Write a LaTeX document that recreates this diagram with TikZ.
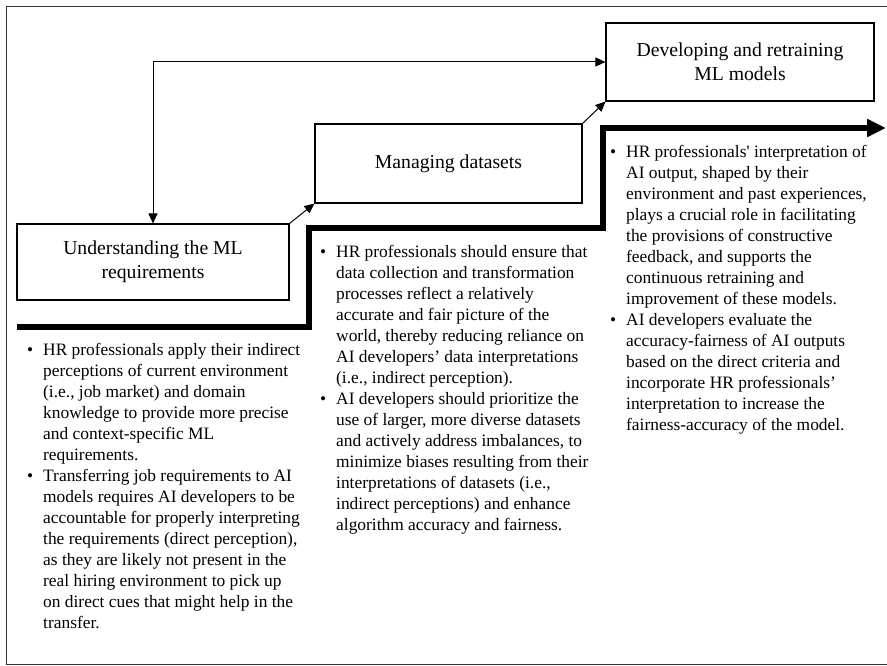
\documentclass[tikz,border=0pt]{standalone}
\usepackage{fontspec}
\setmainfont{Liberation Serif}
\usetikzlibrary{arrows.meta}
\begin{document}
\begin{tikzpicture}[x=1pt, y=-1pt,
  stagebox/.style={draw=black, line width=1.1pt, align=center, inner sep=0pt,
    font=\fontsize{19.7}{23.5}\selectfont},
  thin/.style={line width=1pt, black},
  tip/.style={-{Triangle[length=10pt,width=9pt]}},
  twotip/.style={{Triangle[length=10pt,width=9pt]}-{Triangle[length=10pt,width=9pt]}},
  stair/.style={line width=6pt, line join=miter, line cap=butt,
    -{Triangle[length=19pt,width=17pt]}},
  notes/.style={anchor=north west, inner sep=0pt,
    font=\fontsize{17.4}{21}\selectfont},
  frame/.style={line width=1.4pt, draw=black!80}]
\useasboundingbox (0,0) rectangle (887,666);

% outer frame (its right side lies past the page edge)
\draw[frame] (887,6.5) -- (6.5,6.5) -- (6.5,664.5) -- (887,664.5);

% the three stages
\node[stagebox, minimum width=272pt, minimum height=76pt] (req) at (153,262)
  {Understanding the ML\\requirements};
\node[stagebox, minimum width=267pt, minimum height=79pt] (data) at (448.5,163.5)
  {Managing datasets};
\node[stagebox, minimum width=268pt, minimum height=78pt] (model) at (740,62)
  {Developing and retraining\\ML models};

% connectors between stages
\draw[thin, tip] (req.north east) -- (data.south west);
\draw[thin, tip] (data.north east) -- (model.south west);
\draw[thin, twotip] (req.north) |- (model.west);

% thick staircase arrow
\coordinate (s0) at (17,327);
\coordinate (s1) at (309,327);
\coordinate (s2) at (309,228);
\coordinate (s3) at (603,228);
\coordinate (s4) at (603,128);
\coordinate (s5) at (886,128);
\draw[stair] (s0) -- (s1) -- (s2) -- (s3) -- (s4) -- (s5);

% notes under each step
\node[notes] (reqnotes) at (27,340.3) {%
\begin{tabular}{@{}p{16pt}@{}l@{}}
• & HR professionals apply their indirect\\
  & perceptions of current environment\\
  & (i.e., job market) and domain\\
  & knowledge to provide more precise\\
  & and context-specific ML\\
  & requirements.\\
• & Transferring job requirements to AI\\
  & models requires AI developers to be\\
  & accountable for properly interpreting\\
  & the requirements (direct perception),\\
  & as they are likely not present in the\\
  & real hiring environment to pick up\\
  & on direct cues that might help in the\\
  & transfer.
\end{tabular}};

\node[notes] (datanotes) at (320,242.3) {%
\begin{tabular}{@{}p{16pt}@{}l@{}}
• & HR professionals should ensure that\\
  & data collection and transformation\\
  & processes reflect a relatively\\
  & accurate and fair picture of the\\
  & world, thereby reducing reliance on\\
  & AI developers’ data interpretations\\
  & (i.e., indirect perception).\\
• & AI developers should prioritize the\\
  & use of larger, more diverse datasets\\
  & and actively address imbalances, to\\
  & minimize biases resulting from their\\
  & interpretations of datasets (i.e.,\\
  & indirect perceptions) and enhance\\
  & algorithm accuracy and fairness.
\end{tabular}};

\node[notes] (modelnotes) at (610,142.3) {%
\begin{tabular}{@{}p{16pt}@{}l@{}}
• & HR professionals\textquotesingle\ interpretation of\\
  & AI output, shaped by their\\
  & environment and past experiences,\\
  & plays a crucial role in facilitating\\
  & the provisions of constructive\\
  & feedback, and supports the\\
  & continuous retraining and\\
  & improvement of these models.\\
• & AI developers evaluate the\\
  & accuracy-fairness of AI outputs\\
  & based on the direct criteria and\\
  & incorporate HR professionals’\\
  & interpretation to increase the\\
  & fairness-accuracy of the model.
\end{tabular}};
\end{tikzpicture}
\end{document}
